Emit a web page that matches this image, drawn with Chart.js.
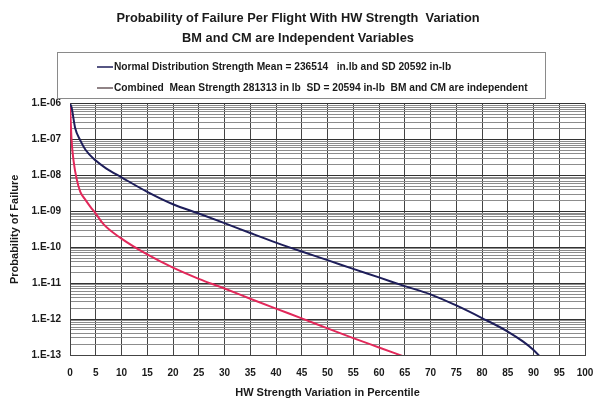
<!DOCTYPE html>
<html>
<head>
<meta charset="utf-8">
<script src="https://cdn.jsdelivr.net/npm/chart.js@4.4.0/dist/chart.umd.min.js"></script>
<style>
  html, body { margin: 0; padding: 0; background: #ffffff; }
  #c { display: block; }
</style>
</head>
<body>
<canvas id="c" width="596" height="398"></canvas>
<script>
// Percentile positions and failure probabilities for each strength model
const normalPercentile = [0, 0.3, 1, 2, 3, 5, 7, 10, 15, 20, 25, 30, 35, 40, 45, 50, 55, 60, 65, 70, 75, 80, 85, 88, 90, 91.5];
const normalProbability = [1.0e-6, 7.9e-7, 2.1e-7, 9.5e-8, 5.2e-8, 2.6e-8, 1.58e-8, 8.9e-9, 3.5e-9, 1.58e-9, 8.7e-10, 4.7e-10, 2.5e-10, 1.35e-10, 7.6e-11, 4.4e-11, 2.5e-11, 1.45e-11, 8.3e-12, 4.9e-12, 2.4e-12, 1.07e-12, 4.5e-13, 2.35e-13, 1.38e-13, 8.3e-14];

const combinedPercentile = [0, 0.3, 0.7, 1.3, 2, 3, 4, 5, 6.5, 10, 15, 20, 25, 30, 35, 40, 45, 50, 55, 60, 65];
const combinedProbability = [1.0e-6, 1.0e-7, 2.5e-8, 7.9e-9, 3.5e-9, 2.1e-9, 1.32e-9, 8.7e-10, 4.4e-10, 1.74e-10, 6.3e-11, 2.7e-11, 1.32e-11, 7.1e-12, 3.7e-12, 1.95e-12, 1.05e-12, 5.5e-13, 2.95e-13, 1.62e-13, 8.9e-14];

const seriesLabels = [
  'Normal Distribution Strength Mean = 236514   in.lb and SD 20592 in-lb',
  'Combined  Mean Strength 281313 in lb  SD = 20594 in-lb  BM and CM are independent'
];

const decadeValues = [1e-13, 1e-12, 1e-11, 1e-10, 1e-9, 1e-8, 1e-7, 1e-6];
const yTickLabels = ['1.E-13', '1.E-12', '1.E-11', '1.E-10', '1.E-09', '1.E-08', '1.E-07', '1.E-06'];
const minorMultipliers = [2, 3, 4, 5, 6, 7, 8, 9];

const titleLines = [
  'Probability of Failure Per Flight With HW Strength  Variation',
  'BM and CM are Independent Variables'
];
const xAxisTitle = 'HW Strength Variation in Percentile';
const yAxisTitle = 'Probability of Failure';

const FONT = "'Liberation Sans', Arial, Helvetica, sans-serif";

function toPoints(xs, ys) {
  return xs.map((x, i) => ({ x: x, y: ys[i] }));
}

// every decade plus the 2..9 multiples inside it
const yGridValues = [];
decadeValues.forEach((d, i) => {
  yGridValues.push(d);
  if (i < decadeValues.length - 1) {
    minorMultipliers.forEach(m => yGridValues.push(d * m));
  }
});

function decadeIndex(v) {
  const lv = Math.log10(v);
  return decadeValues.findIndex(d => Math.abs(Math.log10(d) - lv) < 1e-6);
}

// boxed legend drawn between the title and the plot
const boxedLegend = {
  id: 'boxedLegend',
  afterDraw(chart) {
    const ctx = chart.ctx;
    ctx.save();
    ctx.strokeStyle = '#8a8a8a';
    ctx.lineWidth = 1;
    ctx.strokeRect(57.5, 52.5, 488, 46);
    chart.data.datasets.forEach((ds, i) => {
      const y = 67 + i * 21;
      ctx.strokeStyle = i === 0 ? ds.borderColor : '#6b5a5e';
      ctx.lineWidth = 1.5;
      ctx.beginPath();
      ctx.moveTo(97, y);
      ctx.lineTo(113, y);
      ctx.stroke();
      ctx.fillStyle = '#1a1a1a';
      ctx.font = 'bold 10.2px ' + FONT;
      ctx.textBaseline = 'middle';
      ctx.textAlign = 'left';
      ctx.fillText(ds.label, 114, y);
    });
    ctx.restore();
  }
};

new Chart(document.getElementById('c'), {
  type: 'line',
  data: {
    datasets: [
      {
        label: seriesLabels[0],
        data: toPoints(normalPercentile, normalProbability),
        borderColor: '#1e1e5a',
        borderWidth: 2,
        pointRadius: 0,
        cubicInterpolationMode: 'monotone',
        fill: false
      },
      {
        label: seriesLabels[1],
        data: toPoints(combinedPercentile, combinedProbability),
        borderColor: '#e2285a',
        borderWidth: 2,
        pointRadius: 0,
        cubicInterpolationMode: 'monotone',
        fill: false
      }
    ]
  },
  options: {
    responsive: false,
    animation: false,
    layout: { padding: 0 },
    plugins: {
      legend: { display: false },
      tooltip: { enabled: false },
      title: {
        display: true,
        text: titleLines,
        color: '#1a1a1a',
        font: { family: FONT, size: 12.8, weight: 'bold', lineHeight: 1.55 },
        padding: { top: 9, bottom: 55 }
      }
    },
    scales: {
      x: {
        type: 'linear',
        min: 0,
        max: 100,
        afterFit(scale) {
          scale.height = 43;
          scale.paddingLeft = 0;
          scale.paddingRight = 11;
        },
        grid: { color: '#444444', lineWidth: 1, drawTicks: false },
        border: { display: true, color: '#444444' },
        ticks: {
          stepSize: 5,
          autoSkip: false,
          maxRotation: 0,
          padding: 12,
          color: '#1a1a1a',
          font: { family: FONT, size: 10, weight: 'bold' }
        },
        title: {
          display: true,
          text: xAxisTitle,
          color: '#1a1a1a',
          font: { family: FONT, size: 11, weight: 'bold', lineHeight: 1.0 },
          padding: { top: 0, bottom: 0 }
        }
      },
      y: {
        type: 'logarithmic',
        min: 1e-13,
        max: 1e-6,
        afterFit(scale) {
          scale.width = 70;
          scale.paddingTop = 0;
          scale.paddingBottom = 0;
        },
        afterBuildTicks(scale) {
          scale.ticks = yGridValues.map(v => ({ value: v, major: decadeIndex(v) >= 0 }));
        },
        grid: {
          drawTicks: false,
          lineWidth: 1,
          color(ctx) {
            if (!ctx.tick) return '#8c8c8c';
            return decadeIndex(ctx.tick.value) >= 0 ? '#333333' : '#8c8c8c';
          }
        },
        border: { display: true, color: '#444444' },
        ticks: {
          autoSkip: false,
          padding: 9,
          color: '#1a1a1a',
          font: { family: FONT, size: 10, weight: 'bold' },
          callback(value) {
            const i = decadeIndex(value);
            return i >= 0 ? yTickLabels[i] : '';
          }
        },
        title: {
          display: true,
          text: yAxisTitle,
          color: '#1a1a1a',
          font: { family: FONT, size: 11, weight: 'bold' },
          padding: { top: 8, bottom: 0 }
        }
      }
    }
  },
  plugins: [boxedLegend]
});
</script>
</body>
</html>
